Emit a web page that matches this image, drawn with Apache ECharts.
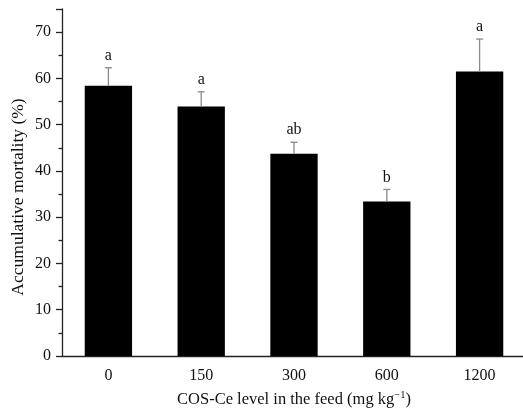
<!DOCTYPE html>
<html>
<head>
<meta charset="utf-8">
<script src="https://cdn.jsdelivr.net/npm/echarts@6/dist/echarts.min.js"></script>
<style>html,body{margin:0;padding:0;background:#fff}#c{width:523px;height:410px}</style>
</head>
<body>
<div id="c"></div>
<script>
const categories = ['0', '150', '300', '600', '1200'];
const means = [58.4, 53.9, 43.7, 33.4, 61.5];
const errors = [3.9, 3.2, 2.5, 2.6, 7.0];
const letters = ['a', 'a', 'ab', 'b', 'a'];
const yTicks = [0, 10, 20, 30, 40, 50, 60, 70];

const font = 'Liberation Serif, Times New Roman, serif';
const chart = echarts.init(document.getElementById('c'));
const errData = means.map((m, i) => [i, m, m + errors[i], letters[i]]);

chart.setOption({
  animation: false,
  textStyle: { fontFamily: font },
  grid: { left: 62, top: 9, width: 464, height: 347, containLabel: false, outerBoundsMode: 'none' },
  xAxis: [{
    type: 'category',
    data: categories,
    axisLine: { lineStyle: { color: '#222', width: 1.3 } },
    axisTick: { alignWithLabel: true, length: 6, lineStyle: { color: '#222', width: 1.3 } },
    axisLabel: { color: '#111', fontSize: 16, fontFamily: font, margin: 12 },
    name: 'COS-Ce level in the feed (mg kg{sup|−1})',
    nameLocation: 'middle',
    nameGap: 34,
    nameTextStyle: {
      color: '#111', fontSize: 16.5, fontFamily: font,
      rich: { sup: { fontSize: 10.5, fontFamily: font, color: '#111', verticalAlign: 'top', padding: [0, 0, 8, 0] } }
    }
  }, {
    type: 'category',
    data: categories,
    position: 'bottom',
    axisLine: { show: false },
    axisTick: { length: 4, lineStyle: { color: '#222', width: 1.3 } },
    axisLabel: { show: false }
  }],
  yAxis: {
    type: 'value',
    min: 0, max: 75, interval: 10,
    axisLine: { show: true, lineStyle: { color: '#222', width: 1.3 } },
    axisTick: { show: true, length: 6, lineStyle: { color: '#222', width: 1.3 } },
    minorTick: { show: true, splitNumber: 2, length: 3.5, lineStyle: { color: '#222', width: 1.3 } },
    splitLine: { show: false },
    axisLabel: {
      color: '#111', fontSize: 16, fontFamily: font, margin: 11,
      formatter: v => (yTicks.indexOf(v) >= 0 ? String(v) : '')
    }
  },
  graphic: [{
    type: 'text',
    x: 18, y: 197,
    rotation: Math.PI / 2,
    style: {
      text: 'Accumulative mortality (%)',
      fill: '#111', fontSize: 17.5, fontFamily: font,
      align: 'center', verticalAlign: 'middle'
    }
  }],
  series: [{
    type: 'bar',
    data: means,
    barWidth: '51%',
    itemStyle: { color: '#000' }
  }, {
    type: 'custom',
    data: errData,
    z: 5,
    renderItem: function (params, api) {
      const i = api.value(0);
      const base = api.coord([i, api.value(1)]);
      const top = api.coord([i, api.value(2)]);
      const half = 3.5;
      const style = { stroke: '#8a8a8a', lineWidth: 1.3 };
      return {
        type: 'group',
        children: [
          { type: 'line', shape: { x1: base[0], y1: base[1], x2: top[0], y2: top[1] }, style: style },
          { type: 'line', shape: { x1: top[0] - half, y1: top[1], x2: top[0] + half, y2: top[1] }, style: style },
          { type: 'text', x: top[0], y: top[1] - 12,
            style: { text: letters[params.dataIndex], fill: '#111', fontSize: 16, fontFamily: font, align: 'center', verticalAlign: 'middle' } }
        ]
      };
    }
  }]
});
</script>
</body>
</html>
